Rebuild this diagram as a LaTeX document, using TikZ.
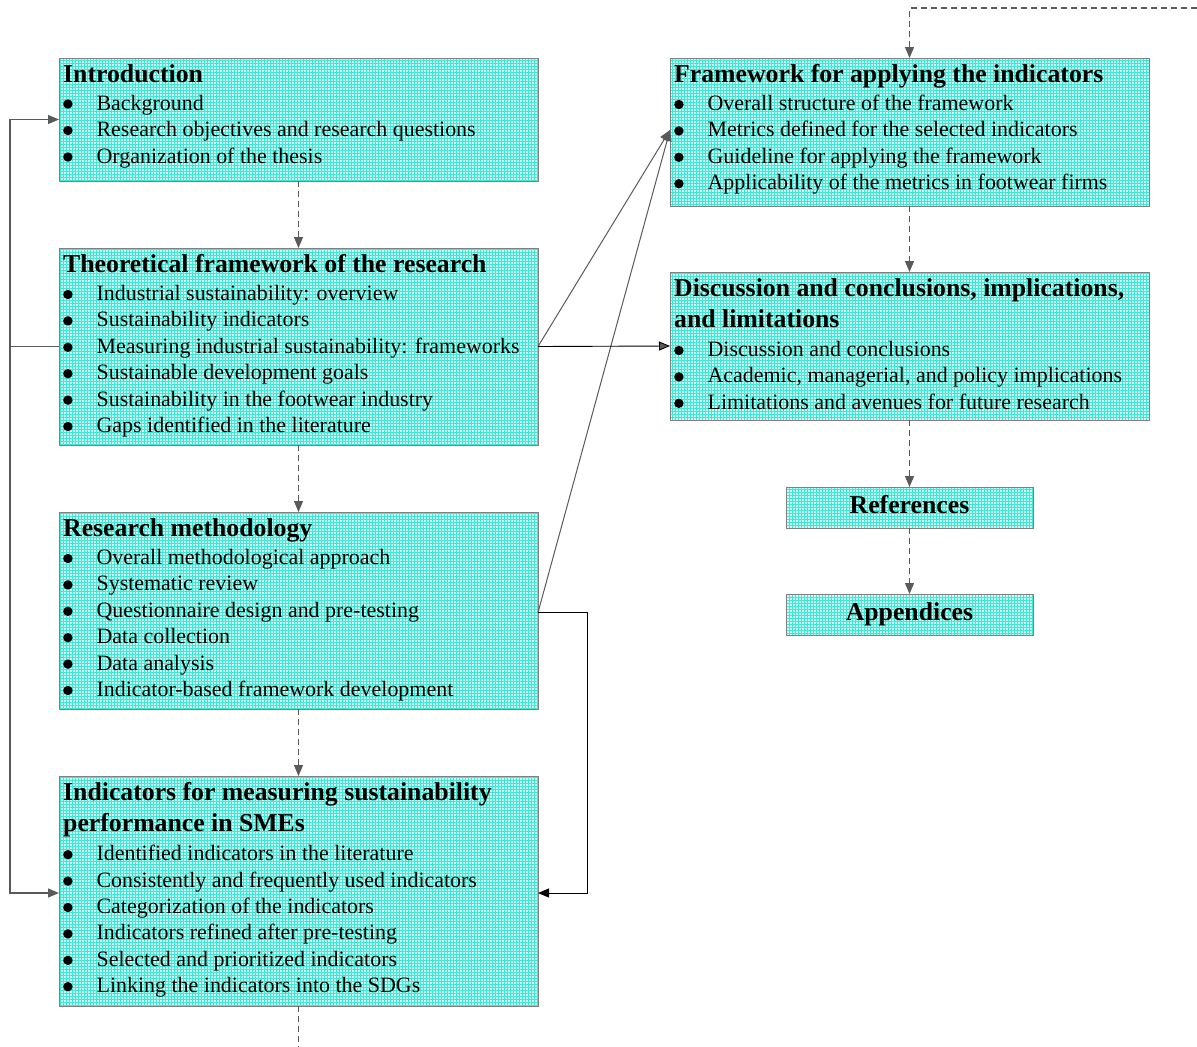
\documentclass[tikz,border=0pt]{standalone}
\usepackage{fontspec}
\setmainfont{Liberation Serif}
\usetikzlibrary{arrows.meta,patterns}

% fine cell grid used as the box texture
\pgfdeclarepatternformonly{cellgrid}{\pgfqpoint{-1pt}{-1pt}}{\pgfqpoint{3pt}{3pt}}{\pgfqpoint{3pt}{3pt}}{%
  \pgfsetlinewidth{0.9pt}%
  \pgfpathmoveto{\pgfqpoint{0pt}{0pt}}\pgfpathlineto{\pgfqpoint{0pt}{3.1pt}}%
  \pgfpathmoveto{\pgfqpoint{0pt}{0pt}}\pgfpathlineto{\pgfqpoint{3.1pt}{0pt}}%
  \pgfusepath{stroke}}

\definecolor{cellbg}{RGB}{200,255,246}
\definecolor{cellline}{RGB}{64,232,210}
\definecolor{boxedge}{RGB}{128,128,128}
\definecolor{linkgray}{RGB}{90,90,90}

\newcommand{\titlefont}{\fontsize{25.75pt}{31pt}\selectfont\bfseries}
\newcommand{\itemfont}{\fontsize{21.95pt}{26.4pt}\selectfont}
% round list marker, drawn as a small disc sitting above the baseline
\newcommand{\listdot}{\tikz[baseline=0pt]\fill[black] (0pt,6pt) circle (4.7pt);}

\tikzset{
  chapter/.style={draw=boxedge, line width=1pt, inner sep=0pt, outer sep=0pt,
    preaction={fill=cellbg}, pattern=cellgrid, pattern color=cellline,
    anchor=north west},
  headline/.style={anchor=base west, inner sep=0pt, font=\titlefont},
  bullet/.style={anchor=base west, inner sep=0pt, font=\itemfont,
    execute at begin node={\makebox[33.4pt][l]{\listdot}}},
  tip/.style={-{Triangle[length=11pt,width=9pt]}},
  seqlink/.style={draw=linkgray, line width=1.2pt, dash pattern=on 6pt off 4pt, tip},
  seqline/.style={draw=linkgray, line width=1.2pt, dash pattern=on 6pt off 4pt},
  graylink/.style={draw=linkgray, line width=1.2pt, tip},
  thinlink/.style={draw=linkgray, line width=1pt, tip},
  darklink/.style={draw=black, line width=0.9pt, -{Triangle[length=11pt,width=9pt,fill=linkgray]}},
  blacklink/.style={draw=black, line width=0.9pt, tip},
}

\begin{document}
\begin{tikzpicture}[x=1pt, y=-1pt]
\useasboundingbox (0,0) rectangle (1197,1047);

% ---------- left column ----------
\node[chapter, minimum width=479pt, minimum height=123pt] (intro) at (59,58) {};
\node[headline] (introT) at (63,82) {Introduction};
\foreach \t [count=\i] in {Background, Research objectives and research questions, Organization of the thesis}
  \node[bullet] (intro\i) at (63,{110+26.5*(\i-1)}) {\t};

\node[chapter, minimum width=479pt, minimum height=197pt] (theory) at (59,248) {};
\node[headline] (theoryT) at (63,272.5) {Theoretical framework of the research};
\foreach \t [count=\i] in {Industrial sustainability: overview, Sustainability indicators,
    Measuring industrial sustainability: frameworks, Sustainable development goals,
    Sustainability in the footwear industry, Gaps identified in the literature}
  \node[bullet] (theory\i) at (63,{300.5+26.4*(\i-1)}) {\t};

\node[chapter, minimum width=479pt, minimum height=197pt] (method) at (59,512) {};
\node[headline] (methodT) at (63,536.5) {Research methodology};
\foreach \t [count=\i] in {Overall methodological approach, Systematic review,
    Questionnaire design and pre-testing, Data collection, Data analysis,
    Indicator-based framework development}
  \node[bullet] (method\i) at (63,{564.5+26.4*(\i-1)}) {\t};

\node[chapter, minimum width=479pt, minimum height=230pt] (ind) at (59,776) {};
\node[headline] (indT1) at (63,800.7) {Indicators for measuring sustainability};
\node[headline] (indT2) at (63,831.7) {performance in SMEs};
\foreach \t [count=\i] in {Identified indicators in the literature,
    Consistently and frequently used indicators, Categorization of the indicators,
    Indicators refined after pre-testing, Selected and prioritized indicators,
    Linking the indicators into the SDGs}
  \node[bullet] (ind\i) at (63,{860.7+26.4*(\i-1)}) {\t};

% ---------- right column ----------
\node[chapter, minimum width=479pt, minimum height=148pt] (frame) at (670,58) {};
\node[headline] (frameT) at (674,82.5) {Framework for applying the indicators};
\foreach \t [count=\i] in {Overall structure of the framework,
    Metrics defined for the selected indicators, Guideline for applying the framework,
    Applicability of the metrics in footwear firms}
  \node[bullet] (frame\i) at (674,{110.5+26.4*(\i-1)}) {\t};

\node[chapter, minimum width=479pt, minimum height=148pt] (disc) at (670,272) {};
\node[headline] (discT1) at (674,296.5) {Discussion and conclusions, implications,};
\node[headline] (discT2) at (674,327.5) {and limitations};
\foreach \t [count=\i] in {Discussion and conclusions,
    {Academic, managerial, and policy implications},
    Limitations and avenues for future research}
  \node[bullet] (disc\i) at (674,{356.5+26.4*(\i-1)}) {\t};

\node[chapter, minimum width=247pt, minimum height=41pt] (refs) at (786,487) {};
\node[anchor=base, inner sep=0pt, font=\titlefont] (refsT) at (909.5,513.5) {References};

\node[chapter, minimum width=247pt, minimum height=41pt] (app) at (786,594) {};
\node[anchor=base, inner sep=0pt, font=\titlefont] (appT) at (909.5,620.5) {Appendices};

% ---------- reading sequence (dashed) ----------
\draw[seqlink] (intro.south) -- (theory.north);
\draw[seqlink] (theory.south) -- (method.north);
\draw[seqlink] (method.south) -- (ind.north);
\coordinate (exitBottom) at (298.5,1047);
\draw[seqline] (ind.south) -- (exitBottom);
\coordinate (entryRight) at (1197,8);
\draw[seqlink] (entryRight) -| (frame.north);
\draw[seqlink] (frame.south) -- (disc.north);
\draw[seqlink] (disc.south) -- (refs.north);
\draw[seqlink] (refs.south) -- (app.north);

% ---------- cross references ----------
\coordinate (busX) at (10,0);
\draw[graylink] (theory.west) -- (theory.west -| busX) |- (intro.west);
\draw[graylink] (theory.west -| busX) |- ([yshift=-2pt]ind.west);
\coordinate (frameIn) at (670,130);
\draw[thinlink] (theory.east) -- (frameIn);
\draw[thinlink] ([yshift=-2pt]method.east) -- (frameIn);
\draw[darklink] (theory.east) -- (disc.west);
\coordinate (busR) at (587,0);
\draw[blacklink] ([yshift=-2pt]method.east) -- ([yshift=-2pt]method.east -| busR) |- ([yshift=-2pt]ind.east);
\end{tikzpicture}
\end{document}
